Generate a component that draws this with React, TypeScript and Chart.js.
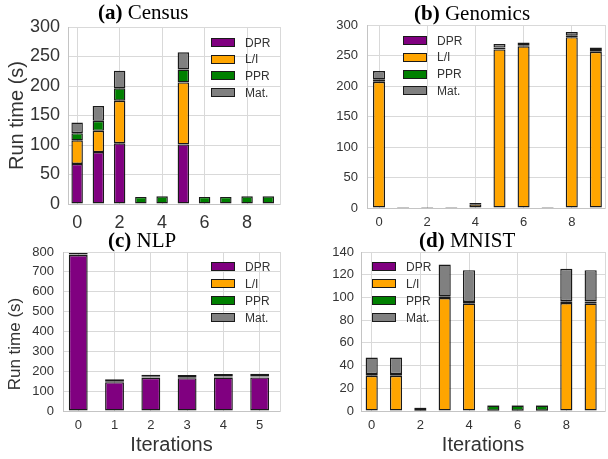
import React, { useEffect, useRef } from 'react';
import { Chart, registerables } from 'chart.js';

Chart.register(...registerables);

// ---------------- data ----------------
const SERIES_NAMES = ['DPR', 'L/I', 'PPR', 'Mat.'];

const censusIterations = [0, 1, 2, 3, 4, 5, 6, 7, 8, 9];
const censusDPR = [68, 88, 103, 0, 0, 101, 0, 0, 0, 0];
const censusLI = [40, 36, 72, 0, 0, 105, 0, 0, 0, 0];
const censusPPR = [12, 17, 21, 12, 13, 22, 12, 12, 13, 13];
const censusMat = [18, 25, 30, 0, 0, 29, 0, 0, 0, 0];

const genomicsIterations = [0, 1, 2, 3, 4, 5, 6, 7, 8, 9];
const genomicsDPR = [0, 0, 0, 0, 0, 0, 0, 0, 0, 0];
const genomicsLI = [207, 1, 1, 1, 6, 260, 265, 1, 280, 256];
const genomicsPPR = [4, 0, 0, 0, 0.5, 3, 2, 0, 2.5, 3];
const genomicsMat = [13.5, 0.5, 0.5, 0.5, 1.5, 6, 4.5, 0.5, 6, 4];

const nlpIterations = [0, 1, 2, 3, 4, 5];
const nlpDPR = [785, 145, 167, 165, 168, 169];
const nlpLI = [1, 1, 1, 1, 1, 1];
const nlpPPR = [2, 4, 4, 4, 4, 4];
const nlpMat = [7, 10, 11, 11, 13, 14];

const mnistIterations = [0, 1, 2, 3, 4, 5, 6, 7, 8, 9];
const mnistDPR = [0, 0, 0, 0, 0, 0, 0, 0, 0, 0];
const mnistLI = [31, 31, 0.3, 99.5, 94.5, 0.3, 0.3, 0.3, 95, 94.5];
const mnistPPR = [1.5, 1.5, 2.5, 1.5, 1.5, 4.5, 4.5, 4.5, 1.7, 2];
const mnistMat = [14.5, 14.5, 0.3, 28, 28, 0.5, 0.5, 0.5, 28.5, 27.5];

// ---------------- styles ----------------
const FILLS = ['#800080', '#FFA500', '#008000', '#808080'];
const BAR_BORDER = '#1a1a1a';
const GRID = '#d9d9d9';
const AXIS = '#c4c4c4';
const TEXT = '#333333';
const SANS = '"Liberation Sans", Arial, sans-serif';
const SERIF = '"Liberation Serif", "Times New Roman", serif';

Chart.defaults.font.family = SANS;
Chart.defaults.color = TEXT;

type PanelCfg = {
  key: string;
  left: number;
  top: number;
  w: number;
  h: number;
  iters: number[];
  series: number[][];
  xMin: number;
  xMax: number;
  xStep: number;
  yMax: number;
  yStep: number;
  barPct: number;
  tickSize: number;
  xPad: number;
  yPad: number;
  padTop: number;
  padRight: number;
  yW: number;
  xH: number;
  yTitle?: { size: number; pad: number };
  xTitle?: { size: number; pad: number };
  htmlYTitle?: { size: number; cx: number; cy: number };
  tag: string;
  name: string;
  titleLeft: number;
  titleTop: number;
  legendLeft: number;
  legendTop: number;
  legendStep: number;
};

const PANELS: PanelCfg[] = [
  {
    key: 'a', left: 0, top: 0, w: 304, h: 230,
    iters: censusIterations, series: [censusDPR, censusLI, censusPPR, censusMat],
    xMin: -0.43, xMax: 9.55, xStep: 2, yMax: 300, yStep: 50, barPct: 0.54,
    tickSize: 18, xPad: 8, yPad: 8, padTop: 27, padRight: 24, yW: 68, xH: 26,
    yTitle: { size: 20, pad: 5 },
    tag: '(a)', name: 'Census', titleLeft: 98, titleTop: 2,
    legendLeft: 211, legendTop: 42.5, legendStep: 16.7,
  },
  {
    key: 'b', left: 304, top: 0, w: 304, h: 230,
    iters: genomicsIterations, series: [genomicsDPR, genomicsLI, genomicsPPR, genomicsMat],
    xMin: -0.5, xMax: 9.38, xStep: 2, yMax: 300, yStep: 50, barPct: 0.5,
    tickSize: 13, xPad: 7, yPad: 9, padTop: 25, padRight: 3, yW: 63, xH: 22,
    tag: '(b)', name: 'Genomics', titleLeft: 414, titleTop: 3,
    legendLeft: 403, legendTop: 40.5, legendStep: 16.8,
  },
  {
    key: 'c', left: 0, top: 230, w: 304, h: 229,
    iters: nlpIterations, series: [nlpDPR, nlpLI, nlpPPR, nlpMat],
    xMin: -0.42, xMax: 5.56, xStep: 1, yMax: 800, yStep: 100, barPct: 0.52,
    tickSize: 13, xPad: 7, yPad: 9, padTop: 22, padRight: 24, yW: 63, xH: 48,
    xTitle: { size: 20, pad: 2 },
    htmlYTitle: { size: 17, cx: 15, cy: 344 },
    tag: '(c)', name: 'NLP', titleLeft: 108, titleTop: 229.5,
    legendLeft: 211, legendTop: 266.5, legendStep: 17,
  },
  {
    key: 'd', left: 304, top: 230, w: 304, h: 229,
    iters: mnistIterations, series: [mnistDPR, mnistLI, mnistPPR, mnistMat],
    xMin: -0.44, xMax: 9.59, xStep: 2, yMax: 140, yStep: 20, barPct: 0.5,
    tickSize: 13, xPad: 7, yPad: 7, padTop: 22, padRight: 3, yW: 57, xH: 48,
    xTitle: { size: 20, pad: 2 },
    tag: '(d)', name: 'MNIST', titleLeft: 419, titleTop: 229.5,
    legendLeft: 372, legendTop: 266.7, legendStep: 17,
  },
];

function buildChart(canvas: HTMLCanvasElement, p: PanelCfg) {
  const datasets = p.series.map((vals, i) => ({
    label: SERIES_NAMES[i],
    data: vals,
    backgroundColor: FILLS[i],
    borderColor: BAR_BORDER,
    borderWidth: 1.4,
    borderSkipped: false as const,
    categoryPercentage: 1,
    barPercentage: p.barPct,
  }));
  return new Chart(canvas, {
    type: 'bar',
    data: { labels: p.iters, datasets },
    options: {
      animation: false,
      responsive: false,
      events: [],
      layout: { padding: { top: p.padTop, right: p.padRight, left: 0, bottom: 0 } },
      plugins: {
        legend: { display: false },
        tooltip: { enabled: false },
        title: { display: false },
      },
      scales: {
        x: {
          type: 'linear',
          stacked: true,
          min: p.xMin,
          max: p.xMax,
          offset: false,
          grid: { offset: false, color: GRID, drawTicks: false },
          border: { color: AXIS },
          ticks: {
            stepSize: p.xStep,
            includeBounds: false,
            padding: p.xPad,
            color: TEXT,
            font: { family: SANS, size: p.tickSize },
            maxRotation: 0,
            autoSkip: false,
          },
          title: p.xTitle
            ? {
                display: true,
                text: 'Iterations',
                color: TEXT,
                font: { family: SANS, size: p.xTitle.size },
                padding: { top: 0, bottom: p.xTitle.pad },
              }
            : { display: false },
          afterFit: (s: any) => {
            s.height = p.xH;
          },
        },
        y: {
          type: 'linear',
          stacked: true,
          min: 0,
          max: p.yMax,
          grid: { color: GRID, drawTicks: false },
          border: { color: AXIS },
          ticks: {
            stepSize: p.yStep,
            padding: p.yPad,
            color: TEXT,
            font: { family: SANS, size: p.tickSize },
          },
          title: p.yTitle
            ? {
                display: true,
                text: 'Run time (s)',
                color: TEXT,
                font: { family: SANS, size: p.yTitle.size },
                padding: { top: p.yTitle.pad, bottom: 0 },
              }
            : { display: false },
          afterFit: (s: any) => {
            s.width = p.yW;
          },
        },
        yR: {
          type: 'linear',
          position: 'right',
          grid: { display: false, drawTicks: false },
          ticks: { display: false },
          border: { color: GRID },
          afterFit: (s: any) => {
            s.width = 0;
          },
        },
      },
    } as any,
  });
}

function Panel({ p }: { p: PanelCfg }) {
  const ref = useRef<HTMLCanvasElement | null>(null);
  useEffect(() => {
    if (!ref.current) return;
    const chart = buildChart(ref.current, p);
    return () => chart.destroy();
  }, [p]);
  return (
    <canvas
      ref={ref}
      width={p.w}
      height={p.h}
      style={{ position: 'absolute', left: p.left, top: p.top, width: p.w, height: p.h }}
    />
  );
}

function Legend({ p }: { p: PanelCfg }) {
  return (
    <>
      {SERIES_NAMES.map((name, i) => (
        <div
          key={name}
          style={{
            position: 'absolute',
            left: p.legendLeft,
            top: p.legendTop + i * p.legendStep - 8,
            height: 16,
            display: 'flex',
            alignItems: 'center',
            whiteSpace: 'nowrap',
          }}
        >
          <span
            style={{
              display: 'inline-block',
              width: 22,
              height: 7,
              background: FILLS[i],
              border: '1px solid ' + BAR_BORDER,
            }}
          />
          <span
            style={{
              marginLeft: 10,
              fontFamily: SANS,
              fontSize: 12,
              color: TEXT,
              lineHeight: '16px',
            }}
          >
            {name}
          </span>
        </div>
      ))}
    </>
  );
}

export default function App() {
  return (
    <div
      style={{
        position: 'fixed',
        left: 0,
        top: 0,
        width: 608,
        height: 459,
        background: '#ffffff',
        overflow: 'hidden',
      }}
    >
      {PANELS.map((p) => (
        <Panel key={p.key} p={p} />
      ))}
      {PANELS.map((p) => (
        <div
          key={'t' + p.key}
          style={{
            position: 'absolute',
            left: p.titleLeft,
            top: p.titleTop,
            fontFamily: SERIF,
            fontSize: 21,
            lineHeight: '21px',
            color: '#000',
            whiteSpace: 'nowrap',
          }}
        >
          <b>{p.tag}</b> {p.name}
        </div>
      ))}
      {PANELS.filter((p) => p.htmlYTitle).map((p) => {
        const t = p.htmlYTitle!;
        return (
          <div
            key={'y' + p.key}
            style={{
              position: 'absolute',
              left: t.cx - 100,
              top: t.cy - 10,
              width: 200,
              height: 20,
              lineHeight: '20px',
              textAlign: 'center',
              fontFamily: SANS,
              fontSize: t.size,
              color: TEXT,
              transform: 'rotate(-90deg)',
              whiteSpace: 'nowrap',
            }}
          >
            Run time (s)
          </div>
        );
      })}
      {PANELS.map((p) => (
        <Legend key={'l' + p.key} p={p} />
      ))}
    </div>
  );
}
